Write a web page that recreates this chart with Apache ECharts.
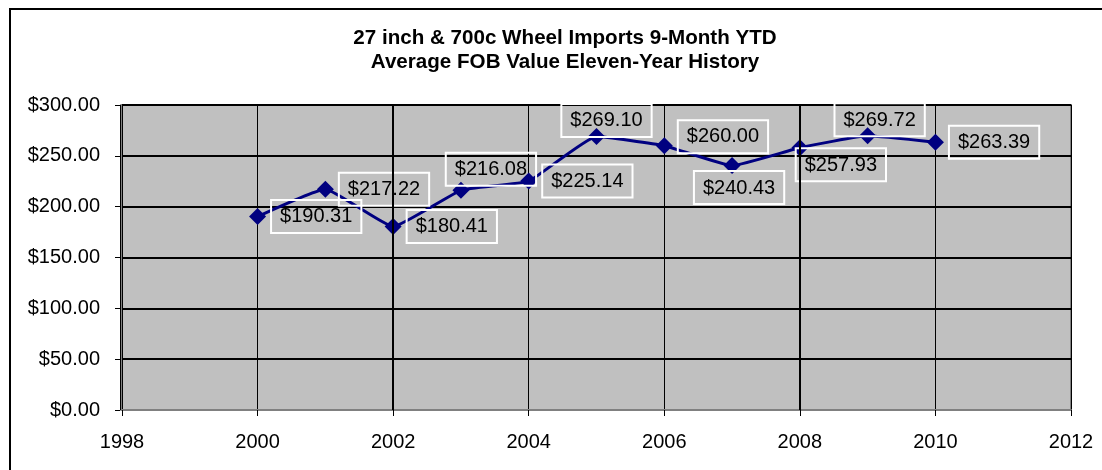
<!DOCTYPE html>
<html>
<head>
<meta charset="utf-8">
<script src="https://cdn.jsdelivr.net/npm/echarts@6/dist/echarts.min.js"></script>
<style>
  html, body { margin: 0; padding: 0; background: #fff; }
  #chart { width: 1102px; height: 470px; }
</style>
</head>
<body>
<div id="chart"></div>
<script>
// data
const years = [2000, 2001, 2002, 2003, 2004, 2005, 2006, 2007, 2008, 2009, 2010]
const fobValues = [190.31, 217.22, 180.41, 216.08, 225.14, 269.10, 260.00, 240.43, 257.93, 269.72, 263.39]
const titleLines = ['27 inch & 700c Wheel Imports 9-Month YTD', 'Average FOB Value Eleven-Year History']
const thickGridYears = [2002, 2008]

// where each value label sits around its point
const labelPlacement = [
  { position: 'right', offset: [0, 0] },
  { position: 'right', offset: [0, 0] },
  { position: 'right', offset: [0, 0] },
  { position: 'top', offset: [30, 9] },
  { position: 'right', offset: [0, 0] },
  { position: 'top', offset: [10, 14] },
  { position: 'right', offset: [0, -9] },
  { position: 'bottom', offset: [7, -8] },
  { position: 'bottom', offset: [41, -13] },
  { position: 'top', offset: [12, 14] },
  { position: 'right', offset: [0, 0] }
]

const money = v => '$' + v.toFixed(2)
const font = '"Liberation Sans", Arial, sans-serif'

const chart = echarts.init(document.getElementById('chart'))

chart.setOption({
  animation: false,
  backgroundColor: '#ffffff',
  textStyle: { fontFamily: font },
  graphic: [
    {
      type: 'rect',
      shape: { x: 10, y: 9, width: 2000, height: 1000 },
      style: { fill: 'none', stroke: '#000', lineWidth: 2 },
      silent: true
    }
  ],
  title: {
    text: titleLines.join('\n'),
    left: 560,
    textAlign: 'center',
    top: 21,
    textStyle: {
      fontFamily: font,
      fontSize: 20.6,
      fontWeight: 'bold',
      color: '#000',
      lineHeight: 24
    }
  },
  grid: {
    left: 122,
    right: 31,
    top: 105,
    bottom: 60,
    show: true,
    backgroundColor: '#c0c0c0',
    borderColor: '#808080',
    borderWidth: 2
  },
  xAxis: {
    type: 'value',
    min: 1998,
    max: 2012,
    interval: 2,
    axisLine: { show: true, lineStyle: { color: '#808080', width: 2 } },
    axisTick: { show: true, length: 6, lineStyle: { color: '#000', width: 1 } },
    axisLabel: {
      margin: 22,
      fontSize: 20,
      color: '#000',
      fontFamily: font,
      formatter: v => String(v)
    },
    splitLine: { show: true, lineStyle: { color: '#000', width: 1 } }
  },
  yAxis: {
    type: 'value',
    min: 0,
    max: 300,
    interval: 50,
    offset: 2,
    axisLine: { show: true, lineStyle: { color: '#000', width: 1 } },
    axisTick: { show: true, length: 5, lineStyle: { color: '#000' } },
    axisLabel: {
      margin: 20,
      fontSize: 20,
      color: '#000',
      fontFamily: font,
      formatter: money
    },
    splitLine: { show: true, lineStyle: { color: '#000', width: 2 } }
  },
  series: [
    {
      type: 'line',
      data: years.map((y, i) => ({
        value: [y, fobValues[i]],
        label: {
          position: labelPlacement[i].position,
          offset: labelPlacement[i].offset
        }
      })),
      smooth: 0.12,
      symbol: 'diamond',
      symbolSize: 17,
      lineStyle: { color: '#000080', width: 3 },
      itemStyle: { color: '#000080' },
      label: {
        show: true,
        formatter: p => money(p.value[1]),
        fontFamily: font,
        fontSize: 20,
        color: '#000',
        lineHeight: 20,
        padding: [7, 9, 6, 9],
        borderColor: '#ffffff',
        borderWidth: 2
      },
      markLine: {
        silent: true,
        symbol: 'none',
        label: { show: false },
        lineStyle: { color: '#000', width: 2, type: 'solid' },
        data: thickGridYears.map(y => ({ xAxis: y }))
      },
      z: 3
    }
  ]
})
</script>
</body>
</html>
